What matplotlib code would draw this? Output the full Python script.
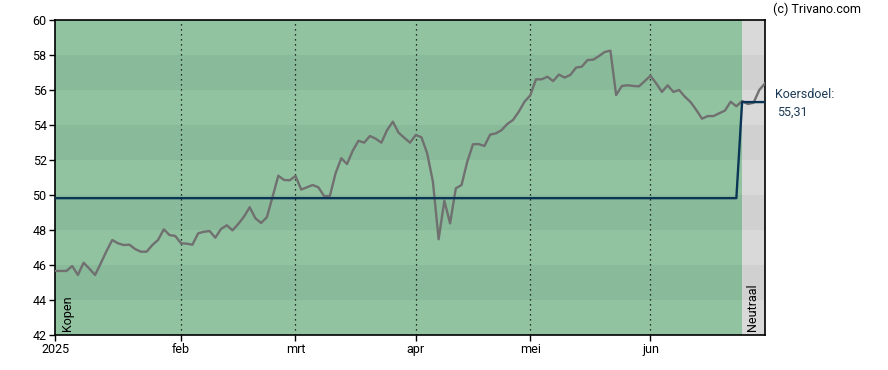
import matplotlib
matplotlib.use("Agg")
import matplotlib.pyplot as plt
import numpy as np

plt.rcParams['font.family'] = ['Roboto', 'DejaVu Sans']

# Price per trading day (index 0 = 2 Jan 2025)
price = [45.66, 45.66, 45.66, 45.94, 45.43, 46.13, 45.79, 45.43, 46.10, 46.80,
         47.43, 47.24, 47.14, 47.16, 46.91, 46.76, 46.76, 47.14, 47.43, 48.04,
         47.71, 47.66, 47.24, 47.22, 47.16, 47.81, 47.90, 47.94, 47.56, 48.06,
         48.27, 47.98, 48.34, 48.76, 49.30, 48.67, 48.40, 48.73, 49.90, 51.10,
         50.86, 50.84, 51.09, 50.31, 50.44, 50.57, 50.44, 49.94, 49.94, 51.24,
         52.10, 51.77, 52.53, 53.10, 52.99, 53.37, 53.22, 52.99, 53.71, 54.19,
         53.56, 53.27, 52.99, 53.43, 53.30, 52.38, 50.76, 47.47, 49.67, 48.38,
         50.38, 50.57, 51.90, 52.90, 52.91, 52.80, 53.45, 53.52, 53.71, 54.06,
         54.29, 54.76, 55.33, 55.69, 56.61, 56.61, 56.76, 56.51, 56.88, 56.71,
         56.86, 57.28, 57.33, 57.71, 57.73, 57.94, 58.17, 58.25, 55.71, 56.23,
         56.27, 56.23, 56.21, 56.51, 56.81, 56.38, 55.89, 56.27, 55.89, 56.00,
         55.62, 55.31, 54.86, 54.36, 54.51, 54.51, 54.67, 54.82, 55.33, 55.07,
         55.37, 55.20, 55.27, 56.00, 56.38]

# Target price (koersdoel) segments
target_x = [0, 119, 120, 124]
target_y = [49.82, 49.82, 55.31, 55.31]

month_ticks = [0, 22, 42, 63, 83, 104]
month_labels = ['2025', 'feb', 'mrt', 'apr', 'mei', 'jun']

neutral_start = 120
x_end = 124
y_ticks = [42, 44, 46, 48, 50, 52, 54, 56, 58, 60]

fig = plt.figure(figsize=(8.88, 3.70), dpi=100)
ax = fig.add_axes([55/888, 1-335/370, 710/888, 315/370])

green_light, green_dark = '#91c3a1', '#89ba99'
grey_light, grey_dark = '#d9d9d9', '#d0d0d0'
for k, lo in enumerate(range(42, 60, 2)):
    light = (k % 2 == 0)
    ax.fill_between([0, neutral_start], lo, lo + 2,
                    color=green_light if light else green_dark, lw=0, zorder=0)
    ax.fill_between([neutral_start, x_end], lo, lo + 2,
                    color=grey_light if light else grey_dark, lw=0, zorder=0)

for t in month_ticks[1:]:
    ax.axvline(t, color='black', lw=0.9, ls=(0, (1, 3)), zorder=1)

ax.plot(np.arange(len(price)), price, color='#707070', lw=1.7, zorder=3)
ax.plot(target_x, target_y, color='#0b3556', lw=1.7, zorder=4)

ax.set_xlim(0, x_end)
ax.set_ylim(42, 60)
ax.set_yticks(y_ticks)
ax.set_yticklabels([str(v) for v in y_ticks])
ax.set_xticks(month_ticks)
ax.set_xticklabels(month_labels)
ax.tick_params(axis='both', labelsize=9, length=4, width=1, colors='black', pad=2)
for s in ax.spines.values():
    s.set_linewidth(1.2)
    s.set_color('black')

ax.text(2.2, 42.2, 'Kopen', rotation=90, ha='center', va='bottom', fontsize=9)
ax.text(neutral_start + 1.9, 42.2, 'Neutraal', rotation=90, ha='center',
        va='bottom', fontsize=9)

fig.text(773/888, 1-9/370, '(c) Trivano.com', ha='left', va='center', fontsize=9)
fig.text(775/888, 1-94/370, 'Koersdoel:', ha='left', va='center', fontsize=9,
         color='#1c3a57')
fig.text(777/888, 1-112/370, '55,31', ha='left', va='center', fontsize=9,
         color='#1c3a57')

fig.savefig('out.png', dpi=100)
